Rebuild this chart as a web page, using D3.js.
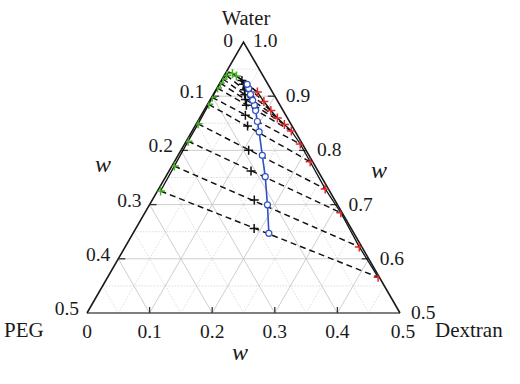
<!DOCTYPE html>
<html><head><meta charset="utf-8">
<script src="https://cdn.jsdelivr.net/npm/d3@7"></script>
<style>
body{margin:0;background:#fff}
svg{display:block}
text{font-family:"Liberation Serif","Times New Roman",serif;fill:#1a1a1a}
</style>
</head><body>
<svg id="c" width="520" height="384"></svg>
<script>
// ---- data (mass fractions) ----
// tie lines: top (PEG-rich) phase, bottom (dextran-rich) phase, feed (+), diameter points (blue)
const topPEG  = [0.270, 0.225, 0.180, 0.148, 0.113, 0.101, 0.084, 0.075, 0.067, 0.058, 0.0467, 0.0426];
const topDex  = [0.005, 0.004, 0.003, 0.003, 0.002, 0.001, 0.001, 0.001, 0.0013, 0.0036, 0.0114, 0.0201];
const botPEG  = [0.002, 0.004, 0.002, 0.005, 0.004, 0.0034, 0.0057, 0.0108, 0.016, 0.0195, 0.0223, 0.024];
const botDex  = [0.432, 0.374, 0.313, 0.266, 0.217, 0.1848, 0.1585, 0.1414, 0.1242, 0.1069, 0.0875, 0.0683];
const feedPEG = [0.155, 0.1285, 0.107, 0.0915, 0.071, 0.0646, 0.0537, 0.0499, 0.0465, 0.0425, 0.0391, 0.038];
const feedDex = [0.189, 0.163, 0.131, 0.108, 0.084, 0.0706, 0.0629, 0.056, 0.0509, 0.0455, 0.0388, 0.033];
const diamPEG = [0.136, 0.112, 0.0895, 0.0745, 0.058, 0.0512, 0.0438, 0.0409, 0.0391, 0.0373, 0.0347, 0.0332];
const diamDex = [0.217, 0.1885, 0.159, 0.1345, 0.108, 0.0955, 0.0826, 0.0757, 0.0685, 0.0594, 0.0513, 0.0448];
// binodal curve
const binPEG = [0.270, 0.225, 0.180, 0.148, 0.113, 0.101, 0.084, 0.075, 0.067, 0.058, 0.051, 0.0467, 0.0426, 0.0379, 0.0341, 0.024, 0.0223, 0.0195, 0.016, 0.0108, 0.0057, 0.0034, 0.004, 0.005, 0.002, 0.004, 0.002];
const binDex = [0.005, 0.004, 0.003, 0.003, 0.002, 0.001, 0.001, 0.001, 0.0013, 0.0036, 0.0044, 0.0114, 0.0201, 0.0313, 0.0434, 0.0683, 0.0875, 0.1069, 0.1242, 0.1414, 0.1585, 0.1848, 0.217, 0.266, 0.313, 0.374, 0.432];
// tick labels
const bottomTicks = [0, 0.1, 0.2, 0.3, 0.4, 0.5];
const leftTicks   = [0, 0.1, 0.2, 0.3, 0.4, 0.5];      // shown on left side (1 - water)
const rightTicks  = [1.0, 0.9, 0.8, 0.7, 0.6, 0.5];    // water

// ---- scales ----
const yScale = d3.scaleLinear().domain([0.5, 1]).range([313, 42]);
const xEdge  = d3.scaleLinear().domain([0.5, 1]).range([87, 243.5]);
const dScale = d3.scaleLinear().domain([0, 0.5]).range([0, 313]);
function proj(P, D){ const W = 1 - P - D; return [xEdge(W) + dScale(D), yScale(W)]; }

const svg = d3.select("#c");
const A = proj(0,0), BL = proj(0.5,0), BR = proj(0,0.5);

svg.append("clipPath").attr("id","tri").append("path")
  .attr("d", d3.line()([A, BL, BR]) + "Z");

// ---- grid ----
const g = svg.append("g");
const steps = d3.range(1, 10).map(i => i * 0.05);
steps.forEach(v => {
  const major = Math.abs(v*10 - Math.round(v*10)) < 1e-6;
  const segs = [
    [proj(v, 0), proj(0, v)],          // horizontal (water = 1 - v)
    [proj(0.5 - v, v), proj(0, v)],    // constant dextran
    [proj(v, 0.5 - v), proj(v, 0)]     // constant PEG
  ];
  segs.forEach(s => {
    g.append("line")
      .attr("x1", s[0][0]).attr("y1", s[0][1]).attr("x2", s[1][0]).attr("y2", s[1][1])
      .attr("stroke", major ? "#c8c8c8" : "#d4d4d4")
      .attr("stroke-width", major ? 0.9 : 0.8)
      .attr("stroke-dasharray", major ? null : "1.5,1.5");
  });
});

// ---- triangle ----
svg.append("line").attr("x1",BL[0]).attr("y1",BL[1]).attr("x2",BR[0]).attr("y2",BR[1])
  .attr("stroke","#555").attr("stroke-width",1.7);
svg.append("path").attr("d", d3.line()([BL, A, BR]))
  .attr("fill","none").attr("stroke","#1a1a1a").attr("stroke-width",1.6);

// ticks
const tk = svg.append("g").attr("stroke","#333").attr("stroke-width",1.3);
[0.1,0.2,0.3,0.4].forEach(v => {
  const p = proj(0.5 - v, v);
  tk.append("line").attr("x1",p[0]).attr("y1",p[1]).attr("x2",p[0]).attr("y2",p[1]-6);
  const l = proj(v, 0);
  tk.append("line").attr("x1",l[0]).attr("y1",l[1]).attr("x2",l[0]+7).attr("y2",l[1]);
  const r = proj(0, v);
  tk.append("line").attr("x1",r[0]).attr("y1",r[1]).attr("x2",r[0]-7).attr("y2",r[1]);
});

// ---- binodal ----
const line = d3.line();
svg.append("path")
  .attr("d", line(binPEG.map((p,i) => proj(p, binDex[i]))))
  .attr("fill","none").attr("stroke","#111").attr("stroke-width",1.3);

// ---- tie lines ----
topPEG.forEach((p,i) => {
  const a = proj(p, topDex[i]), b = proj(botPEG[i], botDex[i]);
  svg.append("line").attr("x1",a[0]).attr("y1",a[1]).attr("x2",b[0]).attr("y2",b[1])
    .attr("stroke","#111").attr("stroke-width",1.45).attr("stroke-dasharray","6,4");
});

function plus(gr, pt, s, col, w){
  gr.append("path")
    .attr("d", `M${pt[0]-s},${pt[1]}H${pt[0]+s}M${pt[0]},${pt[1]-s}V${pt[1]+s}`)
    .attr("stroke", col).attr("stroke-width", w).attr("fill","none");
}
const mk = svg.append("g").attr("clip-path","url(#tri)");
topPEG.forEach((p,i) => plus(mk, proj(p, topDex[i]), 4.5, "#45b023", 1.5));
botPEG.forEach((p,i) => plus(mk, proj(p, botDex[i]), 4.5, "#e02a2a", 1.5));
const fk = svg.append("g");
feedPEG.forEach((p,i) => plus(fk, proj(p, feedDex[i]), 4.5, "#111", 1.5));

// ---- diameter (blue) ----
const dpts = diamPEG.map((p,i) => proj(p, diamDex[i]));
svg.append("path").attr("d", line(dpts)).attr("fill","none")
  .attr("stroke","#2f50c8").attr("stroke-width",1.6);
svg.append("g").selectAll("circle").data(dpts).join("circle")
  .attr("cx", d => d[0]).attr("cy", d => d[1]).attr("r", 3)
  .attr("fill","#fff").attr("stroke","#2f50c8").attr("stroke-width",1.2);

// ---- labels ----
const fs = 19.5;
function txt(x, y, s, anchor, size, italic){
  svg.append("text").attr("x",x).attr("y",y).attr("text-anchor",anchor||"start")
    .attr("font-size", size||fs).attr("font-style", italic ? "italic" : null).text(s);
}
bottomTicks.forEach(v => {
  const p = proj(0.5 - v, v);
  txt(p[0] + (v===0.5?3:0), 338, v === 0 ? "0" : v.toFixed(1), "middle");
});
leftTicks.forEach(v => {
  const p = proj(v, 0);
  if (v === 0) { txt(233, 47, "0", "end"); return; }
  txt(p[0] - 8, p[1] + 2, v.toFixed(1), "end");
});
rightTicks.forEach(v => {
  const p = proj(0, 1 - v);
  if (v === 1) { txt(253, 47, "1.0", "start"); return; }
  txt(p[0] + 11, p[1] + 6, v.toFixed(1), "start");
});
txt(246, 25, "Water", "middle", 20.5);
txt(4, 337, "PEG", "start", 21);
txt(435, 337, "Dextran", "start", 21);
txt(103, 172, "w", "middle", 24, true);
txt(379, 178, "w", "middle", 24, true);
txt(240, 360, "w", "middle", 24, true);
</script>
</body></html>
